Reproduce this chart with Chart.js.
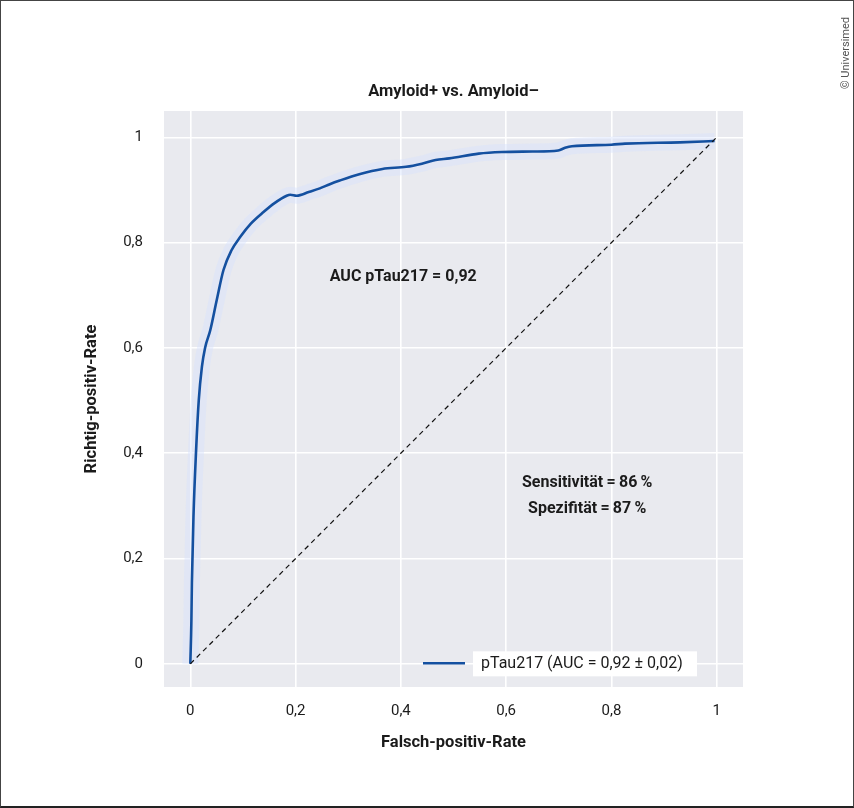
<!DOCTYPE html>
<html>
<head>
<meta charset="utf-8">
<script src="https://cdn.jsdelivr.net/npm/chart.js@4.4.1/dist/chart.umd.min.js"></script>
<style>
  html, body { margin: 0; padding: 0; background: #fff; }
  #wrap { position: relative; width: 854px; height: 808px; }
  #frame { position: absolute; left: 0; top: 0; width: 854px; height: 808px; box-sizing: border-box;
           border: 1px solid #444; border-bottom: 2px solid #222; pointer-events: none; }
  #copy { position: absolute; left: 845px; top: 53px; transform: translate(-50%, -50%) rotate(-90deg);
          font: 11px Roboto, sans-serif; color: #555; white-space: nowrap; }
</style>
</head>
<body>
<div id="wrap">
  <canvas id="roc" width="854" height="808"></canvas>
  <div id="frame"></div>
  <div id="copy">© Universimed</div>
</div>
<script>
// ROC-Kurve pTau217, Werte
var fpr = [0, 0.002, 0.003, 0.006, 0.011, 0.016, 0.022, 0.028, 0.038, 0.05, 0.063, 0.078, 0.095,
           0.115, 0.139, 0.16, 0.183, 0.19, 0.202, 0.225, 0.246, 0.265, 0.284, 0.321, 0.365, 0.41,
           0.44, 0.466, 0.492, 0.548, 0.592, 0.65, 0.699, 0.712, 0.725, 0.80, 0.826, 0.93, 0.996];
var tpr = [0, 0.08, 0.154, 0.28, 0.406, 0.50, 0.564, 0.60, 0.634, 0.69, 0.748, 0.785, 0.811,
           0.836, 0.858, 0.875, 0.889, 0.891, 0.889, 0.896, 0.903, 0.911, 0.918, 0.93, 0.94, 0.944,
           0.95, 0.957, 0.96, 0.969, 0.972, 0.973, 0.975, 0.98, 0.983, 0.986, 0.988, 0.9905, 0.993];
var chanceX = [0, 1];
var chanceY = [0, 1];
var tickLabels = ["0", "0,2", "0,4", "0,6", "0,8", "1"];
var legendText = "pTau217 (AUC = 0,92 \u00b1 0,02)";
var notes = [
  { text: "AUC pTau217 = 0,92", x: 0.4045, y: 0.734 },
  { text: "Sensitivit\u00e4t\u2009=\u200986\u2009%", x: 0.754, y: 0.343 },
  { text: "Spezifit\u00e4t\u2009=\u200987\u2009%", x: 0.754, y: 0.294 }
];

function pts(xs, ys) {
  return xs.map(function (v, i) { return { x: v, y: ys[i] }; });
}

var FONT = "Roboto, 'Open Sans', sans-serif";
var INK = "#1b1b1b";

var plotDeco = {
  id: "plotDeco",
  beforeDraw: function (chart) {
    var a = chart.chartArea, c = chart.ctx;
    c.save();
    c.fillStyle = "#e9eaef";
    c.fillRect(a.left, a.top, a.right - a.left, a.bottom - a.top);
    c.restore();
  },
  afterDraw: function (chart) {
    var c = chart.ctx, sx = chart.scales.x, sy = chart.scales.y, a = chart.chartArea;
    c.save();
    c.fillStyle = INK;
    c.textAlign = "center";
    c.textBaseline = "middle";
    c.font = "bold 16px " + FONT;
    notes.forEach(function (n) {
      c.fillText(n.text, sx.getPixelForValue(n.x), sy.getPixelForValue(n.y));
    });
    // legend: line sample on the plot, label in a white box
    var ly = sy.getPixelForValue(0) - 0.5;
    c.fillStyle = "#ffffff";
    c.fillRect(a.right - 270, ly - 12, 224, 25);
    c.strokeStyle = "#1450a0";
    c.lineWidth = 2.5;
    c.beginPath();
    c.moveTo(a.right - 320, ly);
    c.lineTo(a.right - 278, ly);
    c.stroke();
    c.fillStyle = INK;
    c.textAlign = "left";
    c.font = "16px " + FONT;
    c.fillText(legendText, a.right - 262, ly + 1);
    c.restore();
  }
};

new Chart(document.getElementById("roc"), {
  type: "line",
  data: {
    datasets: [
      {
        label: "chance",
        data: pts(chanceX, chanceY),
        borderColor: "#111",
        borderWidth: 1.2,
        borderDash: [5, 4],
        pointRadius: 0,
        order: 0
      },
      {
        label: "pTau217",
        data: pts(fpr, tpr),
        borderColor: "#1450a0",
        borderWidth: 2.6,
        pointRadius: 0,
        cubicInterpolationMode: "monotone",
        order: 1
      },
      {
        label: "band",
        data: pts(fpr, tpr),
        borderColor: "rgba(215, 226, 252, 0.45)",
        borderWidth: 16,
        pointRadius: 0,
        cubicInterpolationMode: "monotone",
        order: 2
      }
    ]
  },
  options: {
    responsive: false,
    animation: false,
    layout: { padding: { left: 0, right: 111, top: 0, bottom: 0 } },
    plugins: {
      legend: { display: false },
      tooltip: { enabled: false },
      title: {
        display: true,
        fullSize: false,
        text: "Amyloid+ vs. Amyloid\u2013",
        color: INK,
        font: { family: FONT, size: 16.5, weight: "bold", lineHeight: 1.2 },
        padding: { top: 82, bottom: 9.2 }
      }
    },
    scales: {
      x: {
        type: "linear",
        min: -0.05,
        max: 1.05,
        border: { display: false },
        grid: { color: "#ffffff", lineWidth: 1.6, drawTicks: false },
        ticks: {
          stepSize: 0.2,
          includeBounds: false,
          padding: 15,
          color: INK,
          font: { family: FONT, size: 15 },
          callback: function (v) { return tickLabels[Math.round(v * 5)]; }
        },
        title: {
          display: true,
          text: "Falsch-positiv-Rate",
          color: INK,
          font: { family: FONT, size: 16.5, weight: "bold", lineHeight: 1.2 },
          padding: { top: 0, bottom: 55 }
        },
        afterFit: function (s) { s.height = 121; }
      },
      y: {
        type: "linear",
        min: -0.044,
        max: 1.05,
        border: { display: false },
        grid: { color: "#ffffff", lineWidth: 1.6, drawTicks: false },
        ticks: {
          stepSize: 0.2,
          includeBounds: false,
          padding: 21,
          color: INK,
          font: { family: FONT, size: 15 },
          callback: function (v) { return tickLabels[Math.round(v * 5)]; }
        },
        title: {
          display: true,
          text: "Richtig-positiv-Rate",
          color: INK,
          font: { family: FONT, size: 16.5, weight: "bold", lineHeight: 1.2 },
          padding: { top: 82, bottom: 0 }
        },
        afterFit: function (s) { s.width = 164; }
      }
    }
  },
  plugins: [plotDeco]
});
</script>
</body>
</html>
